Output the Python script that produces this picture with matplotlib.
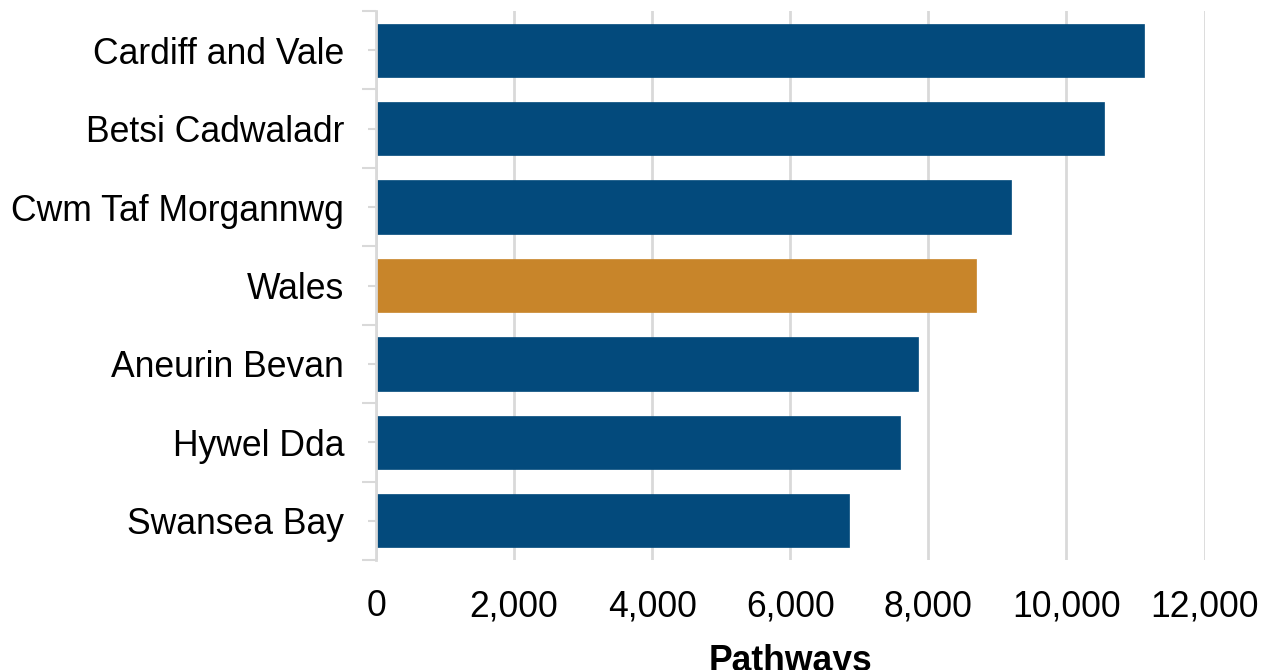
import matplotlib
matplotlib.use("Agg")
import matplotlib.pyplot as plt
import numpy as np

categories = ["Cardiff and Vale", "Betsi Cadwaladr", "Cwm Taf Morgannwg", "Wales",
              "Aneurin Bevan", "Hywel Dda", "Swansea Bay"]
values = [11120, 10550, 9200, 8690, 7855, 7585, 6855]
colors = ["#034a7c", "#034a7c", "#034a7c", "#c8852a", "#034a7c", "#034a7c", "#034a7c"]
xticks = [0, 2000, 4000, 6000, 8000, 10000, 12000]
xlabel = "Pathways"

plt.rcParams['font.family'] = ['Liberation Sans', 'DejaVu Sans']

fig = plt.figure(figsize=(12.69, 6.70), dpi=100)
ax = fig.add_axes([376/1269, 1-560/670, (1204.5-376)/1269, (560-11)/670])

y = np.arange(len(categories))
ax.barh(y, values, height=0.68, color=colors, edgecolor=colors, linewidth=0.5, zorder=3)
ax.set_ylim(len(categories)-0.5, -0.5)
ax.set_xlim(0, 12000)

ax.set_yticks(y)
ax.set_yticklabels(categories, fontsize=25.6)
ax.set_yticks(np.arange(len(categories)+1)-0.5, minor=True)
ax.tick_params(axis='y', which='major', length=6, width=1.5, color='#d9d9d9', pad=17)
ax.tick_params(axis='y', which='minor', length=10, width=1.5, color='#d9d9d9')

ax.set_xticks(xticks)
ax.set_xticklabels([f"{v:,}" for v in xticks], fontsize=25.6)
ax.tick_params(axis='x', length=0, pad=21)
ax.set_xlabel(xlabel, fontsize=25.6, fontweight='bold', labelpad=14)

ax.grid(axis='x', color='#d9d9d9', linewidth=2, zorder=0)
for s in ['top', 'right', 'bottom']:
    ax.spines[s].set_visible(False)
ax.spines['left'].set_color('#d9d9d9')
ax.spines['left'].set_linewidth(2)
ax.spines['left'].set_zorder(4)

fig.savefig("out.png", dpi=100)
